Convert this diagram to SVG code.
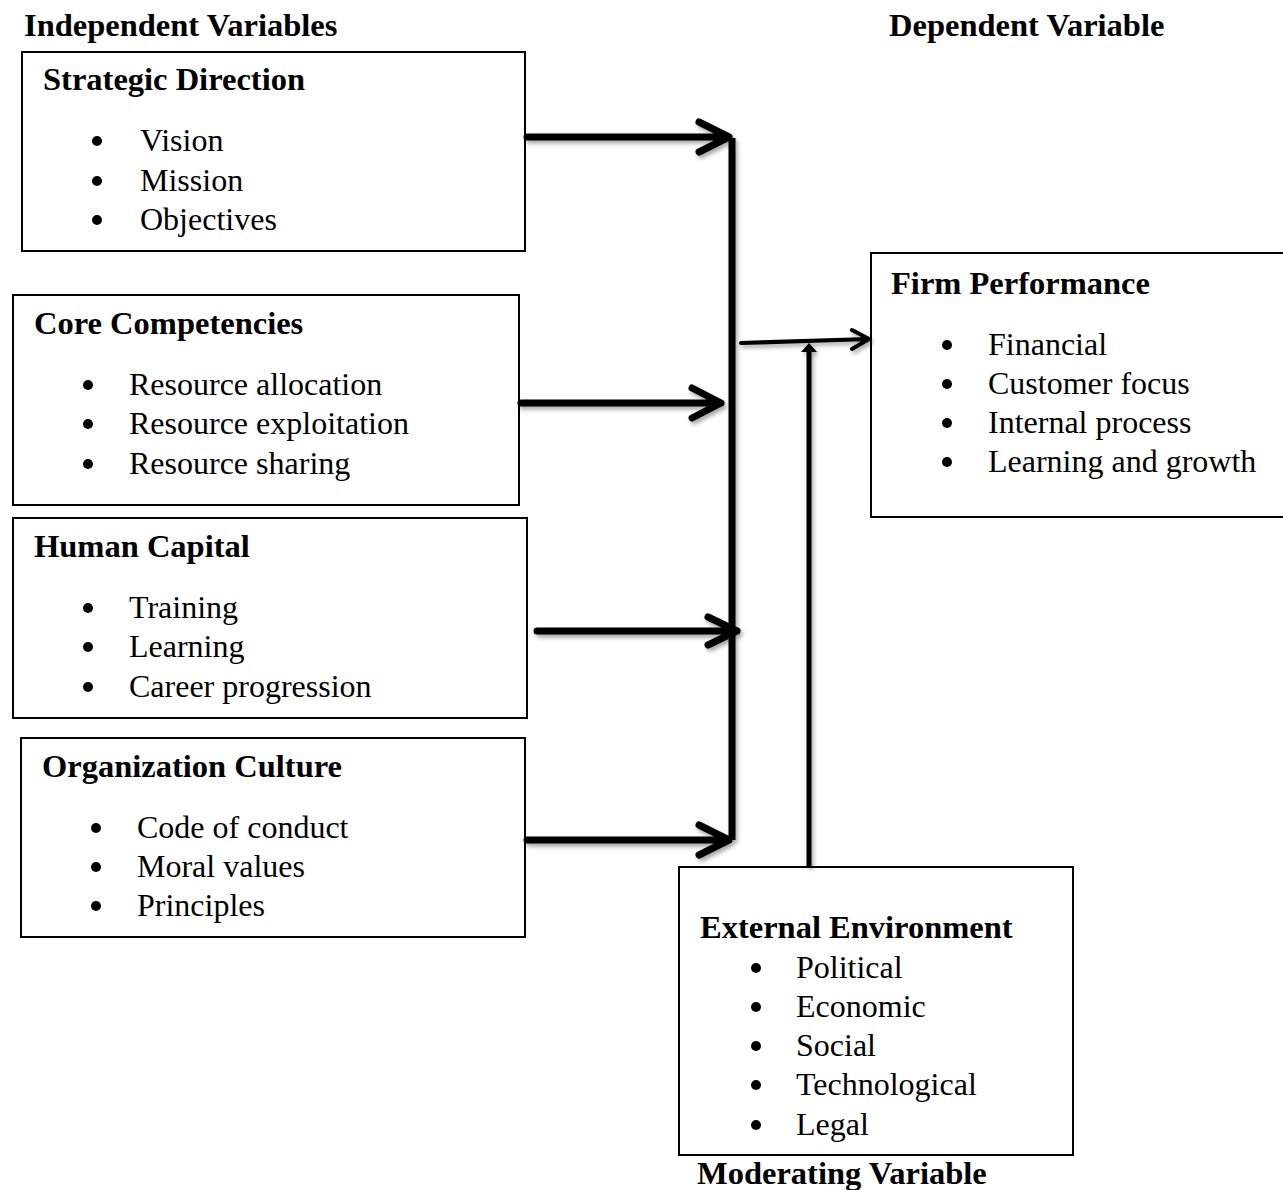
<svg xmlns="http://www.w3.org/2000/svg" width="1283" height="1190" viewBox="0 0 1283 1190">
<defs>
<style>
text{font-family:"Liberation Serif","Times New Roman",serif;fill:#000;font-size:32px}
.b{font-weight:bold;font-size:32.5px}
.box{fill:#fff;stroke:#000;stroke-width:2}
.arr{fill:none;stroke:#000;stroke-width:7;stroke-linecap:round;stroke-linejoin:round}
.thin{fill:none;stroke:#000;stroke-width:4;stroke-linecap:round;stroke-linejoin:round}
</style>
<filter id="sh" x="-10%" y="-10%" width="130%" height="140%">
<feDropShadow dx="2" dy="3" stdDeviation="2" flood-color="#000" flood-opacity="0.35"/>
</filter>
</defs>
<rect width="1283" height="1190" fill="#fff"/>
<text class="b" x="24" y="36">Independent Variables</text>
<text class="b" x="889" y="36">Dependent Variable</text>
<text class="b" x="697" y="1184">Moderating Variable</text>

<g id="strategic">
<rect class="box" x="22" y="52" width="503" height="199"/>
<text class="b" x="43" y="90">Strategic Direction</text>
<circle cx="97" cy="141" r="5"/><text x="140" y="151">Vision</text>
<circle cx="97" cy="181" r="5"/><text x="140" y="191">Mission</text>
<circle cx="97" cy="220" r="5"/><text x="140" y="230">Objectives</text>
</g>

<g id="core">
<rect class="box" x="13" y="295" width="506" height="210"/>
<text class="b" x="34" y="334">Core Competencies</text>
<circle cx="88" cy="385" r="5"/><text x="129" y="395">Resource allocation</text>
<circle cx="88" cy="424" r="5"/><text x="129" y="434">Resource exploitation</text>
<circle cx="88" cy="464" r="5"/><text x="129" y="474">Resource sharing</text>
</g>

<g id="human">
<rect class="box" x="13" y="518" width="514" height="200"/>
<text class="b" x="34" y="557">Human Capital</text>
<circle cx="88" cy="608" r="5"/><text x="129" y="618">Training</text>
<circle cx="88" cy="647" r="5"/><text x="129" y="657">Learning</text>
<circle cx="88" cy="687" r="5"/><text x="129" y="697">Career progression</text>
</g>

<g id="culture">
<rect class="box" x="21" y="738" width="504" height="199"/>
<text class="b" x="42" y="777">Organization Culture</text>
<circle cx="96" cy="828" r="5"/><text x="137" y="838">Code of conduct</text>
<circle cx="96" cy="867" r="5"/><text x="137" y="877">Moral values</text>
<circle cx="96" cy="906" r="5"/><text x="137" y="916">Principles</text>
</g>

<g id="firm">
<rect class="box" x="871" y="253" width="420" height="264"/>
<text class="b" x="891" y="294">Firm Performance</text>
<circle cx="947" cy="345" r="5"/><text x="988" y="355">Financial</text>
<circle cx="947" cy="384" r="5"/><text x="988" y="394">Customer focus</text>
<circle cx="947" cy="423" r="5"/><text x="988" y="433">Internal process</text>
<circle cx="947" cy="462" r="5"/><text x="988" y="472">Learning and growth</text>
</g>

<g id="external">
<rect class="box" x="679" y="867" width="394" height="288"/>
<text class="b" x="700" y="938">External Environment</text>
<circle cx="756" cy="968" r="5"/><text x="796" y="978">Political</text>
<circle cx="756" cy="1007" r="5"/><text x="796" y="1017">Economic</text>
<circle cx="756" cy="1046" r="5"/><text x="796" y="1056">Social</text>
<circle cx="756" cy="1085" r="5"/><text x="796" y="1095">Technological</text>
<circle cx="756" cy="1125" r="5"/><text x="796" y="1135">Legal</text>
</g>

<g id="connectors" filter="url(#sh)">
<path class="arr" d="M732,138 L732,840" style="stroke-linecap:butt"/>
<path class="arr" d="M527,137 L729,137 M699,122 L729,137 L699,152"/>
<path class="arr" d="M521,403 L721,403 M692,388 L721,403 L692,418"/>
<path class="arr" d="M537,631 L737,631 M708,617 L737,631 L708,645"/>
<path class="arr" d="M527,840 L729,840 M699,825 L729,840 L699,855"/>
<path class="thin" d="M741,343 L869,339 M852,330 L869,339 L852,349"/>
<path d="M809,866 L809,352" stroke="#000" stroke-width="5" fill="none"/>
<path d="M801,352 L809,343 L817,352 Z" fill="#000"/>
</g>
</svg>
